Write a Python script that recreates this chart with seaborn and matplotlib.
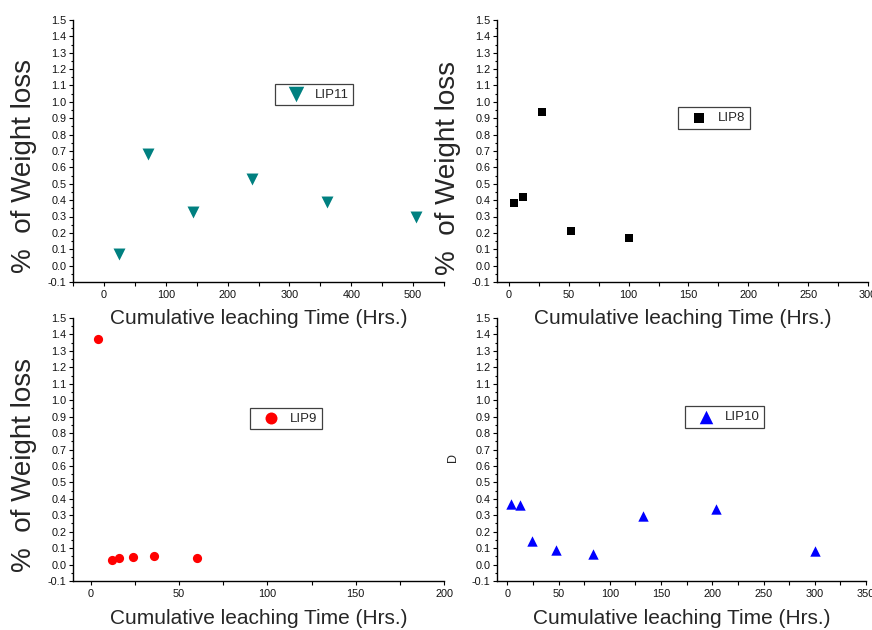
import seaborn as sns
import matplotlib.pyplot as plt
from matplotlib.ticker import MultipleLocator, FormatStrFormatter

lip11_time = [24, 72, 144, 240, 360, 504]
lip11_loss = [0.07, 0.68, 0.33, 0.53, 0.39, 0.30]

lip8_time = [4, 12, 28, 52, 100]
lip8_loss = [0.38, 0.42, 0.94, 0.21, 0.17]

lip9_time = [4, 12, 16, 24, 36, 60]
lip9_loss = [1.37, 0.03, 0.04, 0.047, 0.051, 0.04]

lip10_time = [4, 12, 24, 48, 84, 132, 204, 300]
lip10_loss = [0.37, 0.36, 0.145, 0.09, 0.067, 0.295, 0.335, 0.08]

xlabel = "Cumulative leaching Time (Hrs.)"
ylabel = "%  of Weight loss"

W, H = 872, 630


def box(l, t, r, b):
    return [l / W, 1 - b / H, (r - l) / W, (b - t) / H]


def px(x, y):
    return x / W, 1 - y / H


sns.set_style("ticks")
plt.rcParams["font.family"] = ["Liberation Sans", "DejaVu Sans"]

fig = plt.figure(figsize=(8.72, 6.3), dpi=100)

panels = [
    # rect, x, y, xlim, major, minor, marker, color, size, label, legend centre, ylabel, ylabel pos, ylabel size, xlabel centre
    (box(73, 20, 444, 282), lip11_time, lip11_loss, (-50, 550), 100, 50, "v", "#008080", 74,
     "LIP11", (314, 94.5), ylabel, (24, 166), 20, (259, 319)),
    (box(497, 20, 868, 282), lip8_time, lip8_loss, (-10, 300), 50, 25, "s", "black", 36,
     "LIP8", (714, 118), ylabel, (448, 168), 20, (683, 319)),
    (box(73, 318, 444, 581), lip9_time, lip9_loss, (-10, 200), 50, 25, "o", "#ff0000", 44,
     "LIP9", (286, 418.5), ylabel, (24, 465), 20, (259, 619)),
    (box(497, 318, 866, 581), lip10_time, lip10_loss, (-10, 350), 50, 25, "^", "#0000ff", 56,
     "LIP10", (724.5, 417), "D", (453, 458), 9, (682, 619)),
]

for (rect, xs, ys, xlim, major, minor, marker, color, size, label, leg, ylab, ylpos, yls, xlc) in panels:
    ax = fig.add_axes(rect)
    sns.scatterplot(x=xs, y=ys, ax=ax, marker=marker, color=color, s=size,
                    linewidth=0, label=label)
    ax.set_xlim(*xlim)
    ax.set_ylim(-0.1, 1.5)
    ax.set(xlabel="", ylabel="")
    sns.despine(ax=ax)
    for s in ["left", "bottom"]:
        ax.spines[s].set_linewidth(1.0)
        ax.spines[s].set_color("black")

    ax.xaxis.set_major_locator(MultipleLocator(major))
    ax.xaxis.set_minor_locator(MultipleLocator(minor))
    ax.yaxis.set_major_locator(MultipleLocator(0.1))
    ax.yaxis.set_minor_locator(MultipleLocator(0.05))
    ax.yaxis.set_major_formatter(FormatStrFormatter("%.1f"))
    ax.tick_params(axis="both", which="both", direction="out", color="black",
                   width=0.8, labelsize=7.8, labelcolor="#111111")
    ax.tick_params(axis="x", which="both", length=3, pad=2.5)
    ax.tick_params(axis="y", which="major", length=3, pad=1.5)
    ax.tick_params(axis="y", which="minor", length=1.8)

    lg = ax.legend(loc="center", bbox_to_anchor=px(*leg), bbox_transform=fig.transFigure,
                   frameon=True, fancybox=False, framealpha=1, edgecolor="#404040",
                   fontsize=9.5, markerscale=1.3, borderpad=0.35, handletextpad=0.15,
                   handlelength=2.5, borderaxespad=0)
    lg.get_frame().set_linewidth(0.9)

    fig.text(*px(*ylpos), ylab, rotation=90, ha="center", va="center", fontsize=yls)
    fig.text(*px(*xlc), xlabel, ha="center", va="center", fontsize=15)

fig.savefig("out.png", dpi=100)
